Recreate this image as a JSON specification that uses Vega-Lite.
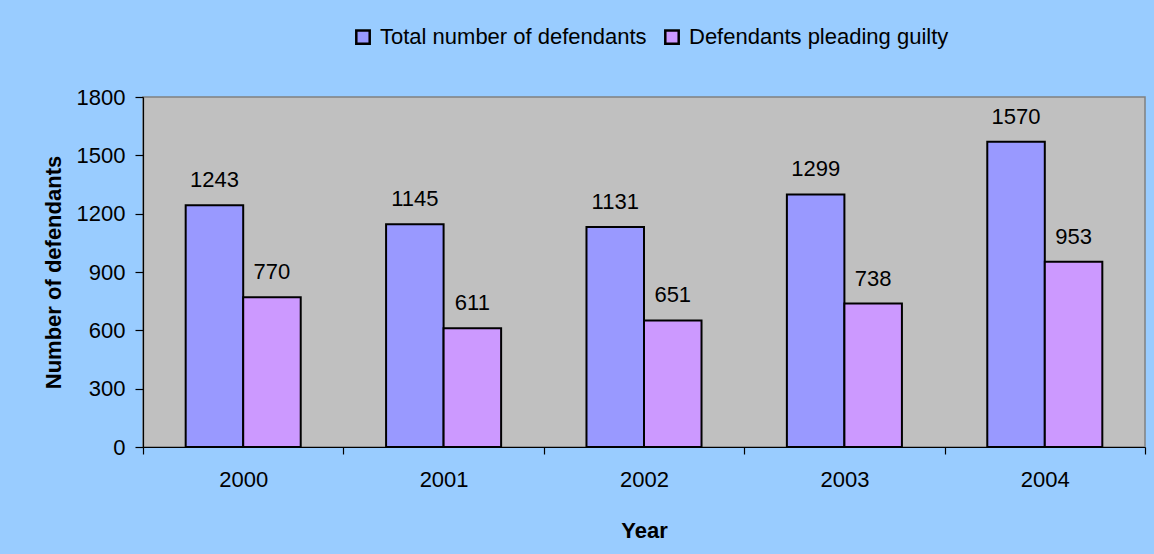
{
  "$schema": "https://vega.github.io/schema/vega-lite/v6.json",
  "autosize": {"type": "none"},
  "padding": {"left": 143, "top": 97, "right": 9, "bottom": 107},
  "width": 1002,
  "height": 350,
  "background": "#99CCFF",
  "config": {
    "font": "Liberation Sans",
    "view": {"fill": "#C0C0C0", "stroke": "#808080", "strokeWidth": 1.5},
    "axis": {"labelFont": "Liberation Sans", "titleFont": "Liberation Sans", "labelColor": "black", "titleColor": "black", "domainColor": "black", "tickColor": "black", "domainWidth": 1.2, "tickWidth": 1.2}
  },
  "data": {
    "values": [
      {"year": "2000", "series": "Total number of defendants", "value": 1243},
      {"year": "2000", "series": "Defendants pleading guilty", "value": 770},
      {"year": "2001", "series": "Total number of defendants", "value": 1145},
      {"year": "2001", "series": "Defendants pleading guilty", "value": 611},
      {"year": "2002", "series": "Total number of defendants", "value": 1131},
      {"year": "2002", "series": "Defendants pleading guilty", "value": 651},
      {"year": "2003", "series": "Total number of defendants", "value": 1299},
      {"year": "2003", "series": "Defendants pleading guilty", "value": 738},
      {"year": "2004", "series": "Total number of defendants", "value": 1570},
      {"year": "2004", "series": "Defendants pleading guilty", "value": 953}
    ]
  },
  "encoding": {
    "x": {
      "field": "year", "type": "nominal",
      "scale": {"paddingInner": 0, "paddingOuter": 0},
      "axis": {
        "title": "Year", "titleFontSize": 22, "titleFontWeight": "bold", "titlePadding": 30,
        "labelFontSize": 22, "labelAngle": 0, "labelPadding": 15,
        "tickBand": "extent", "tickSize": 7, "grid": false
      }
    },
    "xOffset": {
      "field": "series", "type": "nominal",
      "sort": ["Total number of defendants", "Defendants pleading guilty"],
      "scale": {"paddingInner": 0, "paddingOuter": 0.742}
    },
    "y": {
      "field": "value", "type": "quantitative",
      "scale": {"domain": [0, 1800], "nice": false},
      "axis": {
        "title": "Number of defendants", "titleFontSize": 22, "titleFontWeight": "bold", "titlePadding": 11,
        "labelFontSize": 22, "labelPadding": 10, "tickSize": 8, "grid": false, "format": "d",
        "values": [0, 300, 600, 900, 1200, 1500, 1800]
      }
    }
  },
  "layer": [
    {
      "mark": {"type": "bar", "stroke": "black", "strokeWidth": 2},
      "encoding": {
        "color": {
          "field": "series", "type": "nominal",
          "sort": ["Total number of defendants", "Defendants pleading guilty"],
          "scale": {"domain": ["Total number of defendants", "Defendants pleading guilty"], "range": ["#9999FF", "#CC99FF"]},
          "legend": {
            "title": null, "orient": "none", "direction": "horizontal",
            "legendX": 209, "legendY": -71,
            "symbolType": "square", "symbolSize": 180, "symbolStrokeColor": "black", "symbolStrokeWidth": 2.5,
            "labelFontSize": 22, "labelFont": "Liberation Sans", "labelColor": "black", "labelLimit": 500,
            "labelOffset": 6, "columnPadding": 13, "padding": 0
          }
        }
      }
    },
    {
      "mark": {"type": "text", "fontSize": 22, "baseline": "alphabetic", "dy": -18, "color": "black", "font": "Liberation Sans"},
      "encoding": {
        "text": {"field": "value", "type": "quantitative"}
      }
    }
  ]
}
